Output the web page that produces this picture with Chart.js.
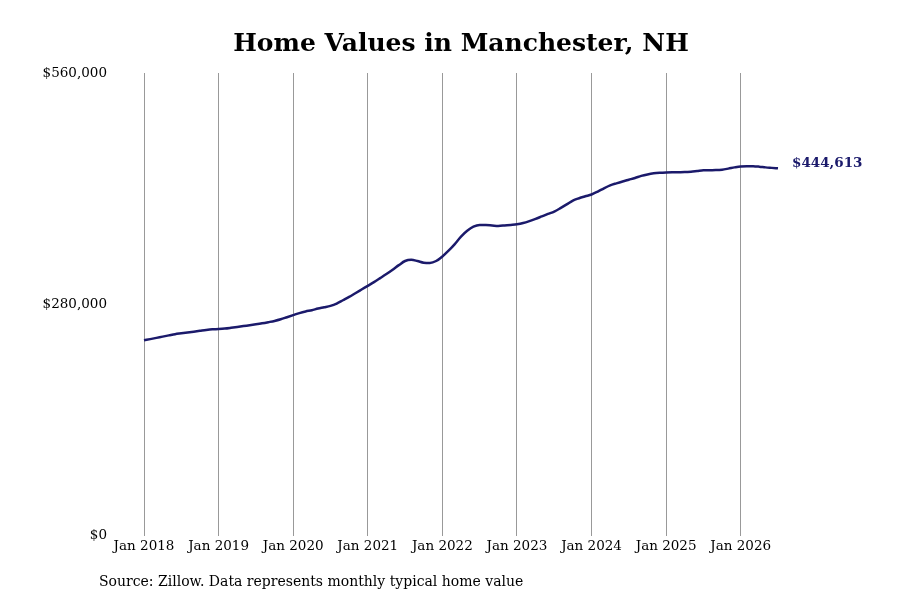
<!DOCTYPE html>
<html>
<head>
<meta charset="utf-8">
<script src="https://cdn.jsdelivr.net/npm/chart.js@4/dist/chart.umd.min.js"></script>
<style>
  html, body { margin: 0; padding: 0; background: #fff; }
  #wrap { width: 900px; height: 600px; position: relative; }
</style>
</head>
<body>
<div id="wrap"><canvas id="chart"></canvas></div>
<script>
const years = [2018, 2019, 2020, 2021, 2022, 2023, 2024, 2025, 2026]
const monthNames = ["Jan", "Feb", "Mar", "Apr", "May", "Jun", "Jul", "Aug", "Sep", "Oct", "Nov", "Dec"]

// typical home value, thousands of dollars, Jan 2018 .. Jul 2026
const values2018 = [236.5, 238, 239.5, 241, 242.5, 244, 245, 246, 247, 248, 249, 249.8]
const values2019 = [250.2, 250.8, 251.7, 252.7, 253.8, 254.8, 255.9, 257.1, 258.5, 260, 262, 264.5]
const values2020 = [267, 269.5, 271.5, 273, 275, 276.5, 278.2, 281, 285, 289, 293.5, 298]
const values2021 = [302.5, 307, 311.8, 316.7, 322, 327.5, 332.5, 334, 332.5, 330.5, 330.2, 332.5]
const values2022 = [338, 345, 353, 362, 369, 374, 376, 376, 375.5, 375, 375.5, 376.2]
const values2023 = [377, 378.5, 380.8, 383.5, 386.5, 389.5, 392.4, 396.5, 401, 405.7, 408.5, 410.8]
const values2024 = [413, 416.5, 420.5, 424, 426.5, 428.8, 430.9, 433, 435.5, 437.3, 438.6, 439.3]
const values2025 = [439.7, 439.9, 440, 440.1, 440.6, 441.4, 442.2, 442.4, 442.5, 443, 444.3, 445.8]
const values2026 = [447, 447.3, 447.2, 446.6, 445.8, 445.2, 444.613]

const yTicks = [0, 280000, 560000]
const lastLabel = "$444,613"
const titleText = "Home Values in Manchester, NH"
const sourceText = "Source: Zillow. Data represents monthly typical home value"

const seriesK = [].concat(values2018, values2019, values2020, values2021, values2022,
  values2023, values2024, values2025, values2026)
const homeValues = seriesK.map(v => v * 1000)

const labels = []
years.forEach(y => monthNames.forEach(m => labels.push(m + " " + y)))
labels.length = homeValues.length

const FONT = "'DejaVu Serif', 'DejaVuSerif', 'Bitstream Vera Serif', 'Noto Serif', serif"
const NAVY = "#1b1a6b"

// title centred over the plot area, source note bottom left, value at line end
const annotations = {
  id: "annotations",
  afterDatasetsDraw(chart) {
    const meta = chart.getDatasetMeta(0)
    const pt = meta.data[meta.data.length - 1]
    const ctx = chart.ctx
    ctx.save()
    ctx.font = "bold 13.5px " + FONT
    ctx.fillStyle = NAVY
    ctx.textAlign = "left"
    ctx.textBaseline = "middle"
    ctx.fillText(lastLabel, pt.x + 14, pt.y - 5)
    ctx.restore()
  },
  afterDraw(chart) {
    const ctx = chart.ctx
    const area = chart.chartArea
    ctx.save()
    ctx.fillStyle = "#000"
    ctx.font = "bold 25px " + FONT
    ctx.textAlign = "center"
    ctx.textBaseline = "middle"
    ctx.fillText(titleText, (area.left + area.right) / 2, 44)
    ctx.font = "14px " + FONT
    ctx.textAlign = "left"
    ctx.fillText(sourceText, 99, 582)
    ctx.restore()
  }
}

new Chart(document.getElementById("chart"), {
  type: "line",
  data: {
    labels: labels,
    datasets: [{
      data: homeValues,
      borderColor: NAVY,
      borderWidth: 2.5,
      pointRadius: 0,
      cubicInterpolationMode: "monotone",
      fill: false
    }]
  },
  options: {
    responsive: true,
    maintainAspectRatio: false,
    animation: false,
    layout: { padding: { left: 0, right: 122, top: 73, bottom: 42 } },
    plugins: {
      legend: { display: false },
      tooltip: { enabled: false },
      title: { display: false }
    },
    scales: {
      x: {
        type: "category",
        offset: false,
        afterBuildTicks(scale) {
          scale.ticks = scale.ticks.filter(t => t.value % 12 === 0)
        },
        ticks: {
          autoSkip: false,
          maxRotation: 0,
          padding: 3,
          color: "#000",
          font: { family: FONT, size: 13.5 },
          callback(value) { return this.getLabelForValue(value) }
        },
        grid: { display: true, color: "#999", lineWidth: 1, drawTicks: false },
        border: { display: false }
      },
      y: {
        min: 0,
        max: 560000,
        afterBuildTicks(scale) {
          scale.ticks = yTicks.map(v => ({ value: v }))
        },
        afterFit(scale) { scale.width = 144 },
        ticks: {
          padding: 37,
          color: "#000",
          font: { family: FONT, size: 13.5 },
          callback(value) { return "$" + value.toLocaleString("en-US") }
        },
        grid: { display: false, drawTicks: false },
        border: { display: false }
      }
    }
  },
  plugins: [annotations]
})
</script>
</body>
</html>
